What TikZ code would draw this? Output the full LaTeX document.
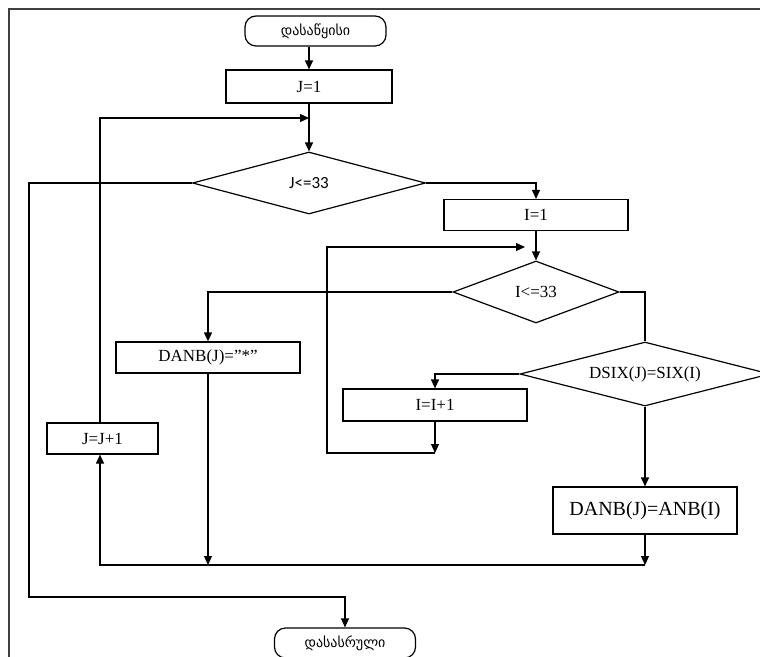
\documentclass[tikz,border=0pt]{standalone}
\usepackage{fontspec}
\setmainfont{Liberation Serif}
\newfontfamily\geo{DejaVu Sans}
\newfontfamily\calib{Carlito}
\usetikzlibrary{shapes.geometric,arrows.meta,calc}
\begin{document}
\begin{tikzpicture}[x=1pt,y=-1pt,
  every node/.style={font=\fontsize{17}{19}\selectfont, inner sep=0pt},
  proc/.style={draw, line width=1.2pt, rectangle},
  term/.style={draw, line width=1.2pt, rounded corners=11pt, font=\geo\fontsize{14}{16}\selectfont},
  dec/.style={draw, line width=1.2pt, diamond, aspect=3.5},
  conn/.style={line width=1.2pt},
  arr/.style={line width=1.2pt, -{Triangle[length=9pt,width=8pt]}}]
\useasboundingbox (0,0) rectangle (760,656);
\clip (0,0) rectangle (760,656);
% frame
\draw[line width=1.6pt, black!75] (9,660) -- (9,9) -- (765,9);
% nodes
\node[term, minimum width=141pt, minimum height=30pt] (start) at (315.5,31) {დასაწყისი};
\node[proc, minimum width=166pt, minimum height=33pt] (j1) at (309,86.5) {J=1};
\node[dec, minimum width=233pt, minimum height=62pt, font=\calib\fontsize{17}{19}\selectfont] (d1) at (309,183) {J<=33};
\node[proc, minimum width=184pt, minimum height=31pt] (i1) at (536,215) {I=1};
\node[dec, minimum width=166pt, minimum height=62pt] (d2) at (536,292) {I<=33};
\node[proc, minimum width=184pt, minimum height=31pt] (danb1) at (208,357.5) {DANB(J)=”*”};
\node[dec, minimum width=250pt, minimum height=64pt] (d3) at (645,374) {DSIX(J)=SIX(I)};
\node[proc, minimum width=184pt, minimum height=32pt] (ii1) at (435,405) {I=I+1};
\node[proc, minimum width=184pt, minimum height=47pt, font=\fontsize{20}{22}\selectfont] (danb2) at (645,510.5) {DANB(J)=ANB(I)};
\node[proc, minimum width=111pt, minimum height=31pt] (jj1) at (102.5,438.5) {J=J+1};
\node[term, minimum width=141pt, minimum height=30pt] (end) at (345,643) {დასასრული};
% coordinates
\coordinate (m1) at (309,118);
\coordinate (exitL) at (29,597);
\coordinate (m2) at (525,247);
\coordinate (b2) at (435,453);
\coordinate (l2) at (327,453);
\coordinate (r3) at (645,565);
\coordinate (l3) at (208,565);
\coordinate (jb) at (100,565);
% connectors
\draw[arr] (start.south -| j1) -- (j1);
\draw[arr] (j1) -- (d1);
\draw[arr] (jb |- jj1.north) |- (m1);
\draw[arr] (d1.west) -| (exitL) -| (end.north);
\draw[arr] (d1.east) -| (i1.north);
\draw[arr] (i1) -- (d2);
\draw[arr] (d2.west) -| (danb1.north);
\draw[conn] (d2.east) -| (d3.north);
\draw[arr] (d3.west) -| (ii1.north);
\draw[arr] (ii1) -- (b2);
\draw[arr] (b2) -- (l2) |- (m2);
\draw[arr] (d3) -- (danb2);
\draw[arr] (danb2) -- (r3);
\draw[arr] (danb1) -- (l3);
\draw[arr] (r3) -- (jb) -- (jb |- jj1.south);
\end{tikzpicture}
\end{document}
